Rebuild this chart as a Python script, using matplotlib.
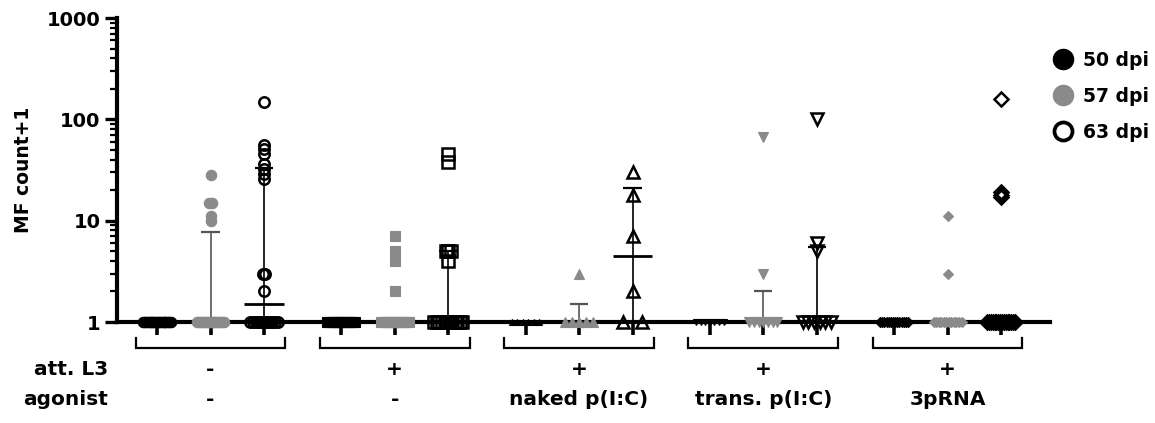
import numpy as np
import matplotlib
matplotlib.use("Agg")
import matplotlib.pyplot as plt
from matplotlib.lines import Line2D
from matplotlib.transforms import blended_transform_factory

plt.rcParams["font.family"] = ["DejaVu Sans"]
plt.rcParams["font.weight"] = "bold"

# ---- data: MF count + 1 per animal (values above 1 listed, animals at 1 counted) ----
att_l3 = ["-", "+", "+", "+", "+"]
agonist = ["-", "-", "naked p(I:C)", "trans. p(I:C)", "3pRNA"]
timepoints = ["50 dpi", "57 dpi", "63 dpi"]

mf_50dpi_above = [[], [], [], [], []]
mf_50dpi_ones = [16, 14, 6, 7, 14]

mf_57dpi_above = [[28, 15, 15, 11, 10], [7, 5, 4, 2], [3], [67, 3], [11, 3]]
mf_57dpi_ones = [15, 16, 5, 7, 12]

mf_63dpi_above = [[147, 56, 51, 46, 36, 32, 29, 26, 3, 3, 2],
                  [45, 38, 5, 5, 5, 4],
                  [30, 18, 7, 2],
                  [100, 6, 5],
                  [160, 19, 18, 17]]
mf_63dpi_ones = [11, 12, 2, 6, 16]

# ---- styling ----
BLACK = "#000000"
GRAY = "#8a8a8a"
GRAY_LINE = "#555555"
group_markers = ["o", "s", "^", "v", "D"]
# marker size per (group, timepoint)
msize = [[7.5, 7.5, 7.5],
         [6.5, 6.5, 8.0],
         [5.0, 6.5, 8.5],
         [5.0, 6.5, 8.5],
         [5.5, 5.5, 7.5]]
series_style = [
    dict(face=BLACK, edge=BLACK, line=BLACK),
    dict(face=GRAY, edge=GRAY, line=GRAY_LINE),
    dict(face="none", edge=BLACK, line=BLACK),
]
series_above = [mf_50dpi_above, mf_57dpi_above, mf_63dpi_above]
series_ones = [mf_50dpi_ones, mf_57dpi_ones, mf_63dpi_ones]

group_gap = 3.444
fig = plt.figure(figsize=(11.55, 4.23), dpi=100)
ax = fig.add_axes([117 / 1155, 1 - 322 / 423, (1050 - 117) / 1155, (322 - 18) / 423])
ax.set_yscale("log")
ax.set_ylim(1, 1000)
ax.set_xlim(-0.748, 16.69)


def spread(values):
    """Horizontal offsets for identical values (dot-plot style)."""
    vals = np.asarray(values, dtype=float)
    offs = np.zeros_like(vals)
    for v in np.unique(vals):
        idx = np.where(vals == v)[0]
        k = len(idx)
        if k > 1:
            if v == 1:
                w = min(0.52, 0.36 * (k - 1))
            else:
                w = min(0.1, 0.05 * (k - 1))
            offs[idx] = np.linspace(-w / 2, w / 2, k)
    return offs


positions = []
for g in range(5):
    for s in range(3):
        x0 = g * group_gap + s
        positions.append(x0)
        vals = np.array(series_above[s][g] + [1] * series_ones[s][g], dtype=float)
        st = series_style[s]
        # median with interquartile range
        q1, med, q3 = np.percentile(vals, [25, 50, 75], method="weibull")
        lc = st["line"]
        if q3 > q1:
            ax.plot([x0, x0], [q1, q3], color=lc, lw=1.2, zorder=2,
                    solid_capstyle="butt")
            for q in (q1, q3):
                ax.plot([x0 - 0.17, x0 + 0.17], [q, q], color=lc, lw=1.6,
                        zorder=2, solid_capstyle="butt")
        ax.plot([x0 - 0.37, x0 + 0.37], [med, med], color=lc, lw=2.0, zorder=2,
                solid_capstyle="butt")
        xs = x0 + spread(vals)
        ax.plot(xs, vals, linestyle="none", marker=group_markers[g],
                markersize=msize[g][s], markerfacecolor=st["face"],
                markeredgecolor=st["edge"],
                markeredgewidth=1.8 if s == 2 else 0.8,
                clip_on=False, zorder=4)

# axes styling
for side in ("top", "right"):
    ax.spines[side].set_visible(False)
ax.spines["left"].set_linewidth(3.0)
ax.spines["bottom"].set_linewidth(3.0)
ax.spines["left"].set_zorder(3)
ax.spines["bottom"].set_zorder(3)
ax.set_xticks(positions)
ax.set_xticklabels([])
ax.tick_params(axis="x", direction="out", length=9, width=2.6, color=BLACK)
ax.set_yticks([1, 10, 100, 1000])
ax.set_yticklabels(["1", "10", "100", "1000"], fontsize=14, fontweight="bold")
ax.yaxis.set_minor_locator(matplotlib.ticker.LogLocator(base=10, subs=np.arange(2, 10)))
ax.yaxis.set_minor_formatter(matplotlib.ticker.NullFormatter())
ax.tick_params(axis="y", which="major", direction="out", length=9, width=2.4, pad=3)
ax.tick_params(axis="y", which="minor", direction="out", length=5, width=1.6)
ax.set_ylabel("MF count+1", fontsize=13.5, fontweight="bold", labelpad=10)

# group brackets and condition labels
trans = blended_transform_factory(ax.transData, ax.transAxes)
y_br = -26 / 304
y_br_end = -16 / 304
for g in range(5):
    xa = g * group_gap - 0.4
    xb = g * group_gap + 2 + 0.4
    ax.plot([xa, xa, xb, xb], [y_br_end, y_br, y_br, y_br_end], color=BLACK,
            lw=1.6, transform=trans, clip_on=False, solid_joinstyle="miter")
    xc = g * group_gap + 1
    ax.text(xc, -53 / 304, att_l3[g], transform=trans, ha="center",
            va="baseline", fontsize=14.5, fontweight="bold")
    ax.text(xc, -83 / 304, agonist[g], transform=trans, ha="center",
            va="baseline", fontsize=14.5, fontweight="bold")

fig.text(108 / 1155, 1 - 375 / 423, "att. L3", ha="right", va="baseline",
         fontsize=14.5, fontweight="bold")
fig.text(108 / 1155, 1 - 405 / 423, "agonist", ha="right", va="baseline",
         fontsize=14.5, fontweight="bold")

# legend
handles = [
    Line2D([], [], linestyle="none", marker="o", markersize=14.5,
           markerfacecolor=BLACK, markeredgecolor=BLACK),
    Line2D([], [], linestyle="none", marker="o", markersize=14.5,
           markerfacecolor=GRAY, markeredgecolor=GRAY),
    Line2D([], [], linestyle="none", marker="o", markersize=13,
           markerfacecolor="none", markeredgecolor=BLACK, markeredgewidth=2.7),
]
fig.legend(handles, timepoints, loc="upper left",
           bbox_to_anchor=(1054 / 1155, 1 - 51 / 423), frameon=False,
           handlelength=1.0, handletextpad=0.55,
           labelspacing=0.9, borderaxespad=0, borderpad=0,
           prop=dict(weight="bold", size=13.5))

fig.savefig("out.png", dpi=100)
